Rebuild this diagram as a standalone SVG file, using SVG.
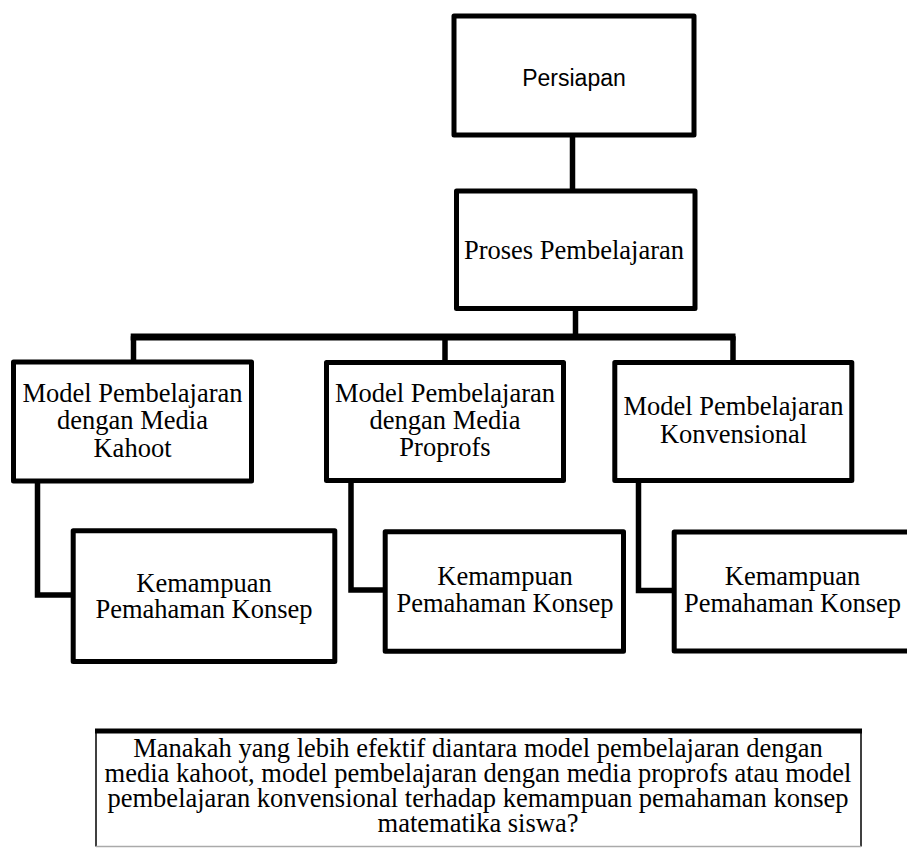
<svg xmlns="http://www.w3.org/2000/svg" width="907" height="848" viewBox="0 0 907 848">
<style>
.box{fill:#fff;stroke:#000;stroke-width:5;stroke-linejoin:round}
.t{font-family:"Liberation Serif","Times New Roman",serif;font-size:26.5px;fill:#000;text-anchor:middle}
.s{font-family:"Liberation Sans",Arial,sans-serif;font-size:23px;fill:#000;text-anchor:middle}
.c{fill:none;stroke:#000;stroke-width:5.5;stroke-linecap:square;stroke-linejoin:miter}
</style>
<rect width="907" height="848" fill="#fff"/>
<g id="connectors">
<line class="c" x1="572.5" y1="137" x2="572.5" y2="189"/>
<line class="c" x1="575.5" y1="311" x2="575.5" y2="335"/>
<line x1="130.7" y1="337" x2="735.5" y2="337" stroke="#000" stroke-width="7"/>
<line class="c" x1="133.5" y1="339" x2="133.5" y2="359"/>
<line class="c" x1="445" y1="339" x2="445" y2="360"/>
<line class="c" x1="733" y1="339" x2="733" y2="360"/>
<polyline class="c" points="37.5,484 37.5,595 70,595"/>
<polyline class="c" points="351,484 351,590 383,590"/>
<polyline class="c" points="638.5,484 638.5,590.5 672,590.5"/>
</g>
<g id="persiapan">
<rect class="box" x="454" y="16" width="240" height="119"/>
<text class="s" x="574" y="86">Persiapan</text>
</g>
<g id="proses">
<rect class="box" x="456.5" y="191" width="238.5" height="117.5"/>
<text class="t" x="574" y="258.5">Proses Pembelajaran</text>
</g>
<g id="kahoot">
<rect class="box" x="13.5" y="362" width="238" height="119"/>
<text class="t" x="132.5" y="401.7">Model Pembelajaran</text>
<text class="t" x="132.5" y="429.2">dengan Media</text>
<text class="t" x="132.5" y="456.7">Kahoot</text>
</g>
<g id="proprofs">
<rect class="box" x="326.5" y="362.5" width="237" height="118"/>
<text class="t" x="445" y="401.7">Model Pembelajaran</text>
<text class="t" x="445" y="429.2">dengan Media</text>
<text class="t" x="445" y="456.2">Proprofs</text>
</g>
<g id="konvensional">
<rect class="box" x="614.8" y="362.5" width="237" height="118"/>
<text class="t" x="733.5" y="415">Model Pembelajaran</text>
<text class="t" x="733.5" y="442.7">Konvensional</text>
</g>
<g id="kemampuan1">
<rect class="box" x="73.2" y="530.8" width="261.6" height="130.7"/>
<text class="t" x="204" y="591.7">Kemampuan</text>
<text class="t" x="204" y="618.3">Pemahaman Konsep</text>
</g>
<g id="kemampuan2">
<rect class="box" x="385.2" y="531.8" width="238.3" height="119.5"/>
<text class="t" x="505" y="585">Kemampuan</text>
<text class="t" x="505" y="611.7">Pemahaman Konsep</text>
</g>
<g id="kemampuan3">
<rect class="box" x="674.2" y="532" width="250" height="119"/>
<text class="t" x="792.5" y="585">Kemampuan</text>
<text class="t" x="792.5" y="611.7">Pemahaman Konsep</text>
</g>
<g id="pertanyaan">
<line x1="95" y1="731" x2="862" y2="731" stroke="#000" stroke-width="5"/>
<line x1="96" y1="731" x2="96" y2="846.5" stroke="#000" stroke-width="1.5"/>
<line x1="861" y1="731" x2="861" y2="846.5" stroke="#000" stroke-width="1.5"/>
<line x1="96" y1="846.5" x2="861" y2="846.5" stroke="#aaa" stroke-width="1.5"/>
<text class="t" x="478" y="756.7">Manakah yang lebih efektif diantara model pembelajaran dengan</text>
<text class="t" x="478" y="781.7">media kahoot, model pembelajaran dengan media proprofs atau model</text>
<text class="t" x="478" y="806.7">pembelajaran konvensional terhadap kemampuan pemahaman konsep</text>
<text class="t" x="478" y="831.7">matematika siswa?</text>
</g>
</svg>
